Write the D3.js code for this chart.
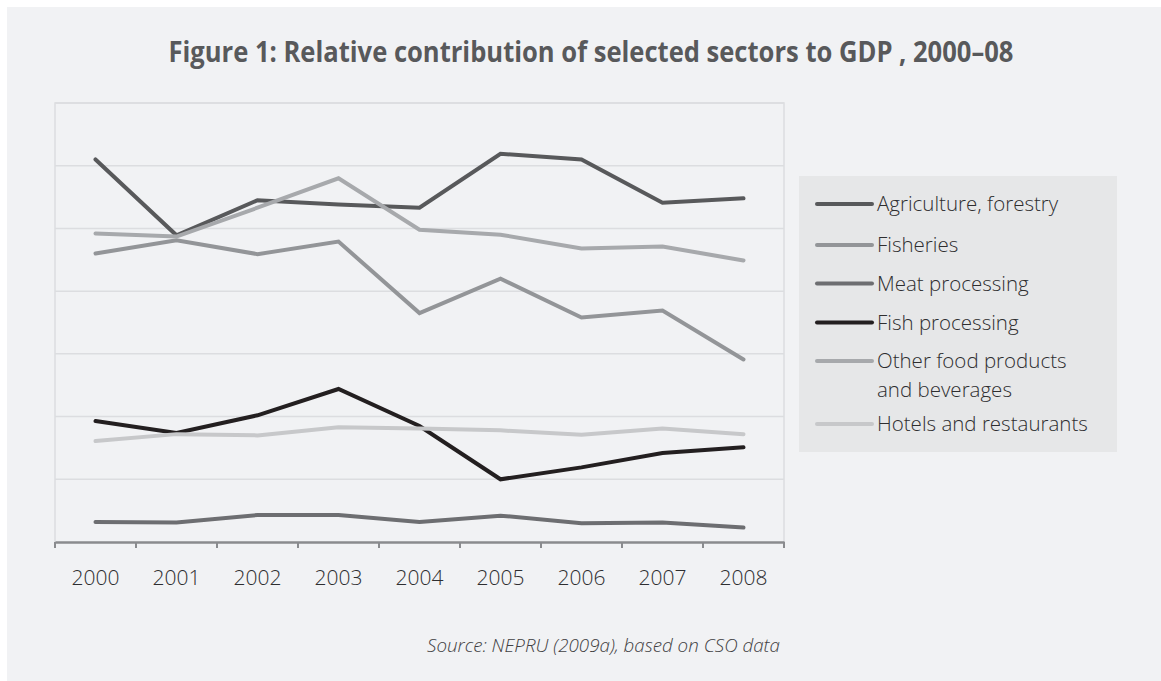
<!DOCTYPE html>
<html>
<head>
<meta charset="utf-8">
<script src="https://cdn.jsdelivr.net/npm/d3@7/dist/d3.min.js"></script>
<style>
  html, body { margin: 0; padding: 0; background: #ffffff; }
  svg { display: block; }
</style>
</head>
<body>
<svg id="chart" width="1161" height="681"></svg>
<script>
// Years on the category axis
const years = ["2000", "2001", "2002", "2003", "2004", "2005", "2006", "2007", "2008"];

// Share of GDP by sector (percent)
const agriculture = [6.10, 4.89, 5.45, 5.38, 5.33, 6.19, 6.10, 5.41, 5.48];
const fisheries   = [4.60, 4.81, 4.59, 4.79, 3.65, 4.20, 3.58, 3.69, 2.91];
const meat        = [0.32, 0.31, 0.43, 0.43, 0.32, 0.42, 0.30, 0.31, 0.23];
const fishProc    = [1.93, 1.74, 2.02, 2.44, 1.85, 1.00, 1.19, 1.42, 1.51];
const otherFood   = [4.92, 4.87, 5.33, 5.80, 4.98, 4.90, 4.68, 4.71, 4.49];
const hotels      = [1.61, 1.72, 1.70, 1.83, 1.81, 1.78, 1.71, 1.81, 1.72];

const seriesNames = [
  ["Agriculture, forestry"],
  ["Fisheries"],
  ["Meat processing"],
  ["Fish processing"],
  ["Other food products", "and beverages"],
  ["Hotels and restaurants"]
];
const seriesValues = [agriculture, fisheries, meat, fishProc, otherFood, hotels];
const seriesColors = ["#58595b", "#939598", "#6d6e71", "#231f20", "#a7a9ac", "#c7c8ca"];

const titleText = "Figure 1: Relative contribution of selected sectors to GDP , 2000\u201308";
const sourceText = "Source: NEPRU (2009a), based on CSO data";
const gridValues = [1, 2, 3, 4, 5, 6, 7];

const svg = d3.select("#chart");

// Panel background
svg.append("rect")
  .attr("x", 7).attr("y", 7)
  .attr("width", 1154).attr("height", 674)
  .attr("fill", "#f1f2f4");

// Title
svg.append("text")
  .attr("x", 591).attr("y", 62)
  .attr("text-anchor", "middle")
  .attr("font-family", "'Open Sans', sans-serif")
  .attr("font-weight", 700)
  .attr("font-size", 28)
  .attr("fill", "#58595b")
  .attr("textLength", 845)
  .attr("lengthAdjust", "spacingAndGlyphs")
  .text(titleText);

const plotL = 55, plotR = 784, plotT = 103, plotB = 542;

const x = d3.scaleBand().domain(years).range([plotL, plotR]);
const y = d3.scaleLinear().domain([0, 7]).range([plotB, plotT]);

// Horizontal gridlines
svg.append("g")
  .selectAll("line")
  .data(gridValues)
  .join("line")
  .attr("x1", plotL).attr("x2", plotR)
  .attr("y1", d => y(d)).attr("y2", d => y(d))
  .attr("stroke", "#dcdde0")
  .attr("stroke-width", 1.5);

// Plot frame sides
svg.append("path")
  .attr("d", `M${plotL},${plotB}V${plotT}H${plotR}V${plotB}`)
  .attr("fill", "none")
  .attr("stroke", "#dcdde0")
  .attr("stroke-width", 1.5);

// Category axis
const xAxis = d3.axisBottom(x).tickSize(0).tickPadding(0);
const axisG = svg.append("g")
  .attr("transform", `translate(0,${plotB})`)
  .call(xAxis);
axisG.select(".domain")
  .attr("stroke", "#8a8b8e")
  .attr("stroke-width", 2.5);
axisG.selectAll(".tick text")
  .attr("y", 43)
  .attr("dy", 0)
  .attr("font-family", "'Open Sans', sans-serif")
  .attr("font-weight", 300)
  .attr("font-size", 21)
  .attr("fill", "#2e2e30");
// Tick marks sit on the band boundaries
const boundaries = years.map(yr => x(yr)).concat([plotR]);
svg.append("g")
  .selectAll("line")
  .data(boundaries)
  .join("line")
  .attr("x1", d => d).attr("x2", d => d)
  .attr("y1", plotB).attr("y2", plotB + 6)
  .attr("stroke", "#8a8b8e")
  .attr("stroke-width", 2);

// Series lines
const line = d3.line()
  .x((d, i) => x(years[i]) + x.bandwidth() / 2)
  .y(d => y(d));

svg.append("g")
  .selectAll("path")
  .data(seriesValues)
  .join("path")
  .attr("d", d => line(d))
  .attr("fill", "none")
  .attr("stroke", (d, i) => seriesColors[i])
  .attr("stroke-width", 4)
  .attr("stroke-linecap", "round")
  .attr("stroke-linejoin", "miter");

// Legend
const legend = svg.append("g");
legend.append("rect")
  .attr("x", 799).attr("y", 176)
  .attr("width", 318).attr("height", 276)
  .attr("fill", "#e6e7e8");

const legendRows = [204, 245, 283.5, 322.5, 361, 424];
const items = legend.selectAll("g.item")
  .data(seriesNames)
  .join("g")
  .attr("class", "item")
  .attr("transform", (d, i) => `translate(0,${legendRows[i]})`);
items.append("line")
  .attr("x1", 817).attr("x2", 872)
  .attr("y1", 0).attr("y2", 0)
  .attr("stroke", (d, i) => seriesColors[i])
  .attr("stroke-width", 4)
  .attr("stroke-linecap", "round");
items.each(function(d) {
  const g = d3.select(this);
  d.forEach((txt, j) => {
    g.append("text")
      .attr("x", 877)
      .attr("y", 7 + j * 29)
      .attr("font-family", "'Open Sans', sans-serif")
      .attr("font-weight", 300)
      .attr("font-size", 20.5)
      .attr("fill", "#2e2e30")
      .text(txt);
  });
});

// Source note
svg.append("text")
  .attr("x", 780).attr("y", 652)
  .attr("text-anchor", "end")
  .attr("font-family", "'Open Sans', sans-serif")
  .attr("font-style", "italic")
  .attr("font-weight", 300)
  .attr("font-size", 19)
  .attr("fill", "#414143")
  .attr("textLength", 353)
  .attr("lengthAdjust", "spacingAndGlyphs")
  .text(sourceText);
</script>
</body>
</html>
